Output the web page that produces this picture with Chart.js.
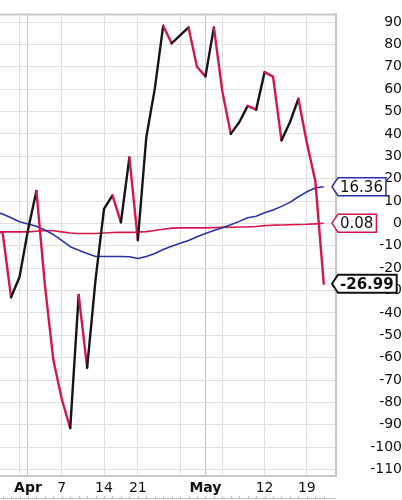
<!DOCTYPE html>
<html>
<head>
<meta charset="utf-8">
<script src="https://cdn.jsdelivr.net/npm/chart.js@4"></script>
<style>
  html, body { margin: 0; padding: 0; background: #fff; }
  #wrap { width: 402px; height: 500px; }
</style>
</head>
<body>
<div id="wrap"><canvas id="chart"></canvas></div>
<script>
// trading days shown on the chart
const dates = [
  '2025-03-26','2025-03-27','2025-03-28','2025-03-31','2025-04-01','2025-04-02','2025-04-03','2025-04-04',
  '2025-04-07','2025-04-08','2025-04-09','2025-04-10','2025-04-11','2025-04-14','2025-04-15','2025-04-16',
  '2025-04-17','2025-04-21','2025-04-22','2025-04-23','2025-04-24','2025-04-25','2025-04-28','2025-04-29',
  '2025-04-30','2025-05-01','2025-05-02','2025-05-05','2025-05-06','2025-05-07','2025-05-08','2025-05-09',
  '2025-05-12','2025-05-13','2025-05-14','2025-05-15','2025-05-16','2025-05-19','2025-05-20','2025-05-21'
];
// oscillator (thick line, black when rising, red when falling)
const oscValues = [-4, -4, -33, -24, -3, 14.5, -27.5, -61, -78.5, -91.5, -32, -64.5, -25, 6.5, 12.5, 0.5,
  29.5, -7.5, 38.5, 60, 88.3, 80.5, 84, 87.6, 70, 65.7, 87.6, 59, 40, 45.2, 52.5, 50.8,
  67.6, 65.6, 37.1, 45.2, 55.7, 36, 19, -26.99];
// blue moving average
const avgValues = [5, 4.2, 2.5, 0.7, -0.3, -1.3, -3, -5, -7.6, -10.4, -12, -13.5, -14.8, -14.8, -14.8, -14.8,
  -14.9, -15.7, -14.8, -13.5, -11.7, -10.2, -8.9, -7.6, -6, -4.5, -3.2, -1.9, -0.6, 0.9, 2.5, 3.2,
  4.7, 6, 7.6, 9.4, 11.9, 14.1, 15.8, 16.36];
// thin red signal line
const sigValues = [-3.8, -3.8, -3.8, -3.8, -3.8, -3.5, -3.2, -3.3, -3.8, -4.3, -4.5, -4.5, -4.5, -4.3, -4.1, -4,
  -4, -3.9, -3.7, -3.2, -2.6, -2.1, -2, -2, -2, -2, -1.9, -1.8, -1.7, -1.6, -1.6, -1.4,
  -1, -0.8, -0.7, -0.6, -0.5, -0.4, -0.2, 0.08];

const yTickValues = [90, 80, 70, 60, 50, 40, 30, 20, 10, 0, -10, -20, -30, -40, -50, -60, -70, -80, -90, -100, -110];
const xTickDates = ['2025-03-31','2025-04-01','2025-04-07','2025-04-14','2025-04-21','2025-04-28','2025-05-01','2025-05-05','2025-05-12','2025-05-19'];
const xTickText = ['', 'Apr', '7', '14', '21', '', 'May', '', '12', '19'];

const RED = '#d4174a';
const BLUE = '#2b32a6';
const FONT = 'DejaVu Sans';

const toPoints = arr => arr.map((v, i) => ({ x: i, y: v }));
const isMonth = i => xTickText[i] === 'Apr' || xTickText[i] === 'May';

// frame top line, minor day ticks under the labels, value badges on the right
const badgePlugin = {
  id: 'badges',
  afterDraw(chart) {
    const { ctx, chartArea, scales } = chart;
    ctx.save();
    ctx.strokeStyle = '#c8c8c8';
    ctx.lineWidth = 2;
    ctx.beginPath();
    ctx.moveTo(chartArea.left, chartArea.top);
    ctx.lineTo(chartArea.right, chartArea.top);
    ctx.stroke();

    // little day ticks at the very bottom
    ctx.strokeStyle = '#bdbdbd';
    ctx.lineWidth = 1;
    ctx.beginPath();
    dates.forEach((d, i) => {
      const x = Math.round(scales.x.getPixelForValue(i)) + 0.5;
      if (x < chartArea.left || x > chartArea.right) return;
      ctx.moveTo(x, 496);
      ctx.lineTo(x, 499);
    });
    ctx.moveTo(chartArea.left, 498.5);
    ctx.lineTo(chartArea.right, 498.5);
    ctx.stroke();

    const list = chart.data.datasets.slice().reverse();
    list.forEach(ds => {
      const last = ds.data[ds.data.length - 1].y;
      const y = scales.y.getPixelForValue(last);
      const txt = last.toFixed(2);
      ctx.font = (ds.badgeBold ? 'bold ' : '') + '15px ' + FONT;
      const w = ctx.measureText(txt).width;
      const tip = chartArea.right - 4;
      const left = tip + 6;
      const h = 18;
      ctx.beginPath();
      ctx.moveTo(tip, y);
      ctx.lineTo(left, y - h / 2);
      ctx.lineTo(left + w + 5, y - h / 2);
      ctx.lineTo(left + w + 5, y + h / 2);
      ctx.lineTo(left, y + h / 2);
      ctx.closePath();
      ctx.fillStyle = '#fff';
      ctx.fill();
      ctx.lineWidth = ds.badgeBold ? 2 : 1.5;
      ctx.strokeStyle = ds.badgeColor;
      ctx.stroke();
      ctx.fillStyle = '#111';
      ctx.textBaseline = 'middle';
      ctx.textAlign = 'left';
      ctx.fillText(txt, left + 2, y + 1);
    });
    ctx.restore();
  }
};

new Chart(document.getElementById('chart'), {
  type: 'line',
  data: {
    datasets: [
      {
        data: toPoints(oscValues),
        borderWidth: 2.4,
        borderColor: RED,
        borderJoinStyle: 'round',
        borderCapStyle: 'round',
        segment: { borderColor: c => c.p1.parsed.y > c.p0.parsed.y ? '#151515' : RED },
        pointRadius: 0,
        badgeColor: '#111',
        badgeBold: true
      },
      { data: toPoints(avgValues), borderWidth: 1.6, borderColor: BLUE, borderJoinStyle: 'round', pointRadius: 0, badgeColor: BLUE },
      { data: toPoints(sigValues), borderWidth: 1.6, borderColor: RED, borderJoinStyle: 'round', pointRadius: 0, badgeColor: RED }
    ]
  },
  options: {
    responsive: true,
    maintainAspectRatio: false,
    animation: false,
    devicePixelRatio: 1,
    layout: { padding: { top: 5, left: 0, right: 0, bottom: 0 } },
    plugins: { legend: { display: false }, tooltip: { enabled: false } },
    scales: {
      x: {
        type: 'linear',
        min: 0.69,
        max: 40.45,
        afterBuildTicks: axis => { axis.ticks = xTickDates.map(d => ({ value: dates.indexOf(d) })); },
        afterFit: s => { s.height = 24; },
        ticks: {
          autoSkip: false,
          maxRotation: 0,
          padding: 4,
          color: '#111',
          callback: (v, i) => xTickText[i],
          font: c => ({ family: FONT, size: 14, weight: isMonth(c.index) ? 'bold' : 'normal' })
        },
        grid: {
          drawTicks: false,
          color: c => isMonth(c.index) ? '#c4c4c4' : '#e0e0e0'
        },
        border: { color: '#c8c8c8', width: 2 }
      },
      y: {
        position: 'right',
        min: -112.9,
        max: 93.4,
        afterBuildTicks: axis => { axis.ticks = yTickValues.map(v => ({ value: v })); },
        afterFit: s => { s.width = 66; },
        ticks: { crossAlign: 'far', padding: 6, color: '#111', font: { family: FONT, size: 14 } },
        grid: { drawTicks: false, color: '#e0e0e0' },
        border: { color: '#c8c8c8', width: 2 }
      }
    }
  },
  plugins: [badgePlugin]
});
</script>
</body>
</html>
